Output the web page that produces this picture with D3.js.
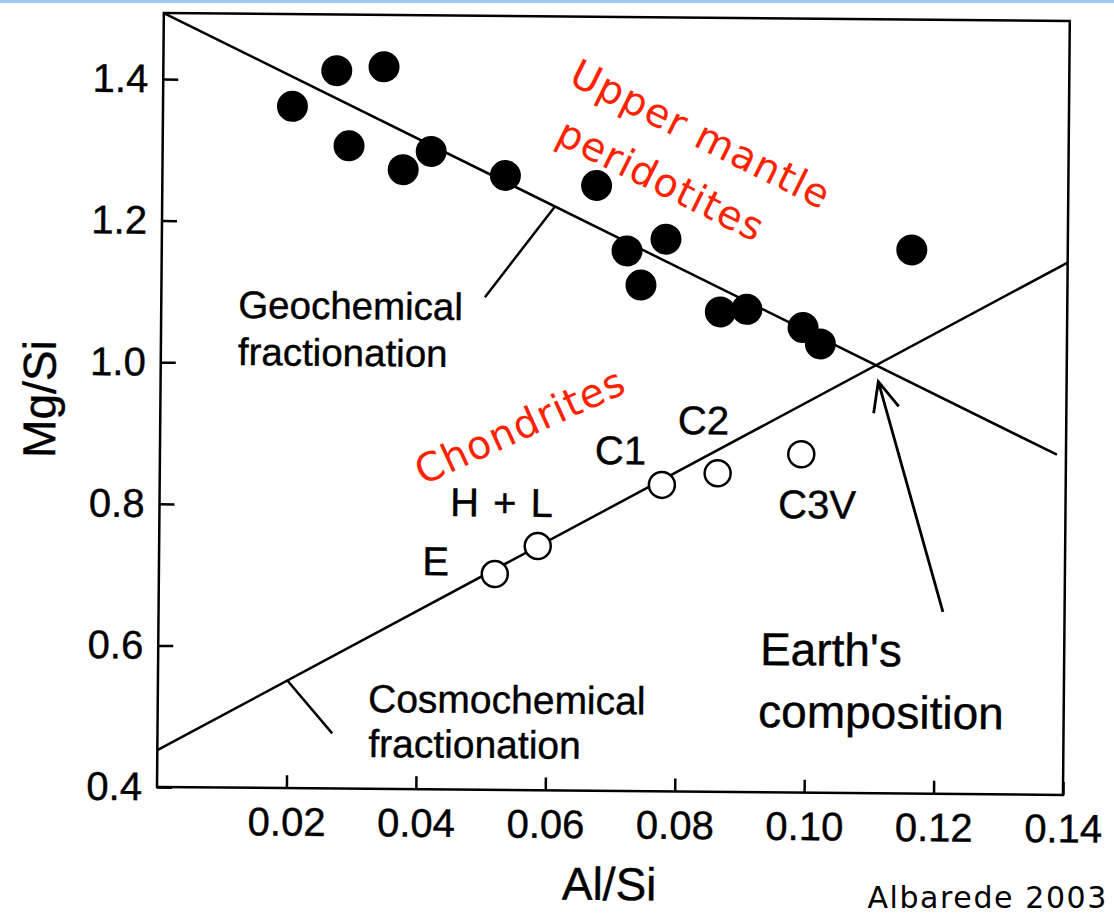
<!DOCTYPE html>
<html>
<head>
<meta charset="utf-8">
<script src="https://cdn.jsdelivr.net/npm/d3@7"></script>
<style>
  html, body { margin: 0; padding: 0; background: #fff; }
  svg { display: block; }
  .fig-text { stroke: #000; stroke-width: 0.4px; }
</style>
</head>
<body>
<script>
// Mg/Si versus Al/Si for upper mantle peridotites and chondrite groups
const peridotiteAlSi = [0.0200, 0.0268, 0.0341, 0.0288, 0.0372, 0.0415, 0.0530, 0.0671,
                        0.0719, 0.0779, 0.0741, 0.0864, 0.0905, 0.0992, 0.1019, 0.1159];
const peridotiteMgSi = [1.363, 1.414, 1.420, 1.308, 1.275, 1.301, 1.268, 1.255,
                        1.163, 1.180, 1.115, 1.078, 1.082, 1.057, 1.034, 1.168];

const chondriteNames = ["E", "H + L", "C1", "C2", "C3V"];
const chondriteAlSi  = [0.0519, 0.0585, 0.0776, 0.0862, 0.0991];
const chondriteMgSi  = [0.705, 0.745, 0.833, 0.850, 0.878];

const xTickValues = [0.02, 0.04, 0.06, 0.08, 0.10, 0.12, 0.14];
const xTickLabels = ["0.02", "0.04", "0.06", "0.08", "0.10", "0.12", "0.14"];
const yTickValues = [0.4, 0.6, 0.8, 1.0, 1.2, 1.4];
const yTickLabels = ["0.4", "0.6", "0.8", "1.0", "1.2", "1.4"];

// fractionation trends (Al/Si, Mg/Si end points)
const geochemicalTrend   = [[0, 1.4932], [0.1386, 0.8805]];
const cosmochemicalTrend = [[0, 0.452], [0.14, 1.152]];
// arrow pointing at the bulk Earth estimate
const earthArrow = [[0.1212, 0.657], [0.1109, 0.9815]];

const W = 906, H = 774;
const FIG_FONT = "'Liberation Sans', Arial, Helvetica, sans-serif";
const NOTE_FONT = "'DejaVu Sans', Verdana, sans-serif";

const svg = d3.select("body").append("svg")
  .attr("width", 1114).attr("height", 914)
  .style("background", "#fff");

// thin slide rule along the top edge
svg.append("rect").attr("x", 0).attr("y", 0).attr("width", 1114).attr("height", 3)
  .attr("fill", "#9ccaf6");

const x = d3.scaleLinear().domain([0, 0.14]).range([0, W]);
const y = d3.scaleLinear().domain([0.4, 1.4932]).range([H, 0]);

// the printed figure sits very slightly tilted on the page
const g = svg.append("g")
  .attr("transform", `translate(157,787) rotate(0.506) translate(0,${-H})`);

// axes with inward ticks
const xAxis = d3.axisBottom(x)
  .tickValues(xTickValues)
  .tickFormat((d, i) => xTickLabels[i])
  .tickSizeInner(-13).tickSizeOuter(0).tickPadding(19);
const yAxis = d3.axisLeft(y)
  .tickValues(yTickValues)
  .tickFormat((d, i) => yTickLabels[i])
  .tickSizeInner(-15).tickSizeOuter(0).tickPadding(15);

const gx = g.append("g").attr("transform", `translate(0,${H})`).call(xAxis);
const gy = g.append("g").call(yAxis);
[gx, gy].forEach(a => {
  a.select(".domain").remove();
  a.selectAll(".tick line").attr("stroke", "#000").attr("stroke-width", 2.5);
  a.selectAll(".tick text")
    .attr("class", "fig-text")
    .attr("fill", "#000")
    .style("font-family", FIG_FONT)
    .style("font-size", "40px");
});

// plot frame
g.append("rect").attr("x", 0).attr("y", 0).attr("width", W).attr("height", H)
  .attr("fill", "none").attr("stroke", "#000").attr("stroke-width", 2.5);

const line = d3.line().x(d => x(d[0])).y(d => y(d[1]));

g.append("path").datum(geochemicalTrend).attr("d", line)
  .attr("fill", "none").attr("stroke", "#000").attr("stroke-width", 2.5);
g.append("path").datum(cosmochemicalTrend).attr("d", line)
  .attr("fill", "none").attr("stroke", "#000").attr("stroke-width", 2.5);

// leader lines for the trend labels
g.append("path").datum([[0.0607, 1.2249], [0.0500, 1.0958]]).attr("d", line)
  .attr("fill", "none").attr("stroke", "#000").attr("stroke-width", 2.5);
g.append("path").datum([[0.0200, 0.552], [0.0270, 0.478]]).attr("d", line)
  .attr("fill", "none").attr("stroke", "#000").attr("stroke-width", 2.5);

// arrow with an open head
const tail = [x(earthArrow[0][0]), y(earthArrow[0][1])];
const tip  = [x(earthArrow[1][0]), y(earthArrow[1][1])];
const ang = Math.atan2(tail[1] - tip[1], tail[0] - tip[0]);
const barb = 32, spread = 24 * Math.PI / 180;
const b1 = [tip[0] + barb * Math.cos(ang + spread), tip[1] + barb * Math.sin(ang + spread)];
const b2 = [tip[0] + barb * Math.cos(ang - spread), tip[1] + barb * Math.sin(ang - spread)];
g.append("path")
  .attr("d", `M${tail}L${tip}M${b1}L${tip}L${b2}`)
  .attr("fill", "none").attr("stroke", "#000").attr("stroke-width", 2.8)
  .attr("stroke-linejoin", "miter");

// peridotites: filled dots
g.selectAll("circle.perid")
  .data(peridotiteAlSi.map((v, i) => [v, peridotiteMgSi[i]]))
  .join("circle").attr("class", "perid")
  .attr("cx", d => x(d[0])).attr("cy", d => y(d[1]))
  .attr("r", 15.5).attr("fill", "#000");

// chondrites: open circles
g.selectAll("circle.chond")
  .data(chondriteAlSi.map((v, i) => [v, chondriteMgSi[i]]))
  .join("circle").attr("class", "chond")
  .attr("cx", d => x(d[0])).attr("cy", d => y(d[1]))
  .attr("r", 13).attr("fill", "#fff").attr("stroke", "#000").attr("stroke-width", 2.5);

// chondrite group names
const chondLabelAt = [[0.0407, 0.7027], [0.0449, 0.7864], [0.0672, 0.8617], [0.0800, 0.9051], [0.0956, 0.7877]];
g.selectAll("text.chond")
  .data(chondriteNames)
  .join("text").attr("class", "chond fig-text")
  .attr("x", (d, i) => x(chondLabelAt[i][0]))
  .attr("y", (d, i) => y(chondLabelAt[i][1]))
  .style("font-family", FIG_FONT).style("font-size", "40px")
  .style("word-spacing", (d, i) => i === 1 ? "3px" : null)
  .text(d => d);

function note(txt, ax, my, size) {
  return g.append("text").attr("class", "fig-text")
    .attr("x", x(ax)).attr("y", y(my))
    .style("font-family", FIG_FONT).style("font-size", size + "px")
    .attr("fill", "#000").text(txt);
}
note("Geochemical", 0.0119, 1.0634, 38.5);
note("fractionation", 0.0119, 0.9970, 38.5);
note("Cosmochemical", 0.0325, 0.5086, 39);
note("fractionation", 0.0326, 0.4451, 39);
note("Earth's", 0.0930, 0.5798, 46);
note("composition", 0.0928, 0.4922, 46);

// axis titles
g.append("text").attr("class", "fig-text")
  .attr("transform", `translate(-105,${y(0.9466)}) rotate(-90)`)
  .attr("text-anchor", "middle")
  .style("font-family", FIG_FONT).style("font-size", "46px")
  .text("Mg/Si");
g.append("text").attr("class", "fig-text")
  .attr("x", x(0.07)).attr("y", H + 109)
  .attr("text-anchor", "middle")
  .style("font-family", FIG_FONT).style("font-size", "46px")
  .text("Al/Si");

// red group captions
function caption(txt, ax, my, angle) {
  g.append("text")
    .attr("transform", `translate(${x(ax)},${y(my)}) rotate(${angle})`)
    .attr("text-anchor", "middle").attr("dominant-baseline", "central")
    .style("font-family", NOTE_FONT).style("font-size", "39.5px")
    .style("letter-spacing", "1.2px")
    .attr("fill", "#ff2200").text(txt);
}
caption("Upper mantle", 0.08317, 1.3291, 26);
caption("peridotites", 0.07706, 1.2637, 26);
caption("Chondrites", 0.05560, 0.9147, -25);

// source
svg.append("text")
  .attr("x", 1108).attr("y", 908).attr("text-anchor", "end")
  .style("font-family", NOTE_FONT).style("font-size", "30px")
  .style("letter-spacing", "1.6px")
  .attr("fill", "#000").text("Albarede 2003");
</script>
</body>
</html>
